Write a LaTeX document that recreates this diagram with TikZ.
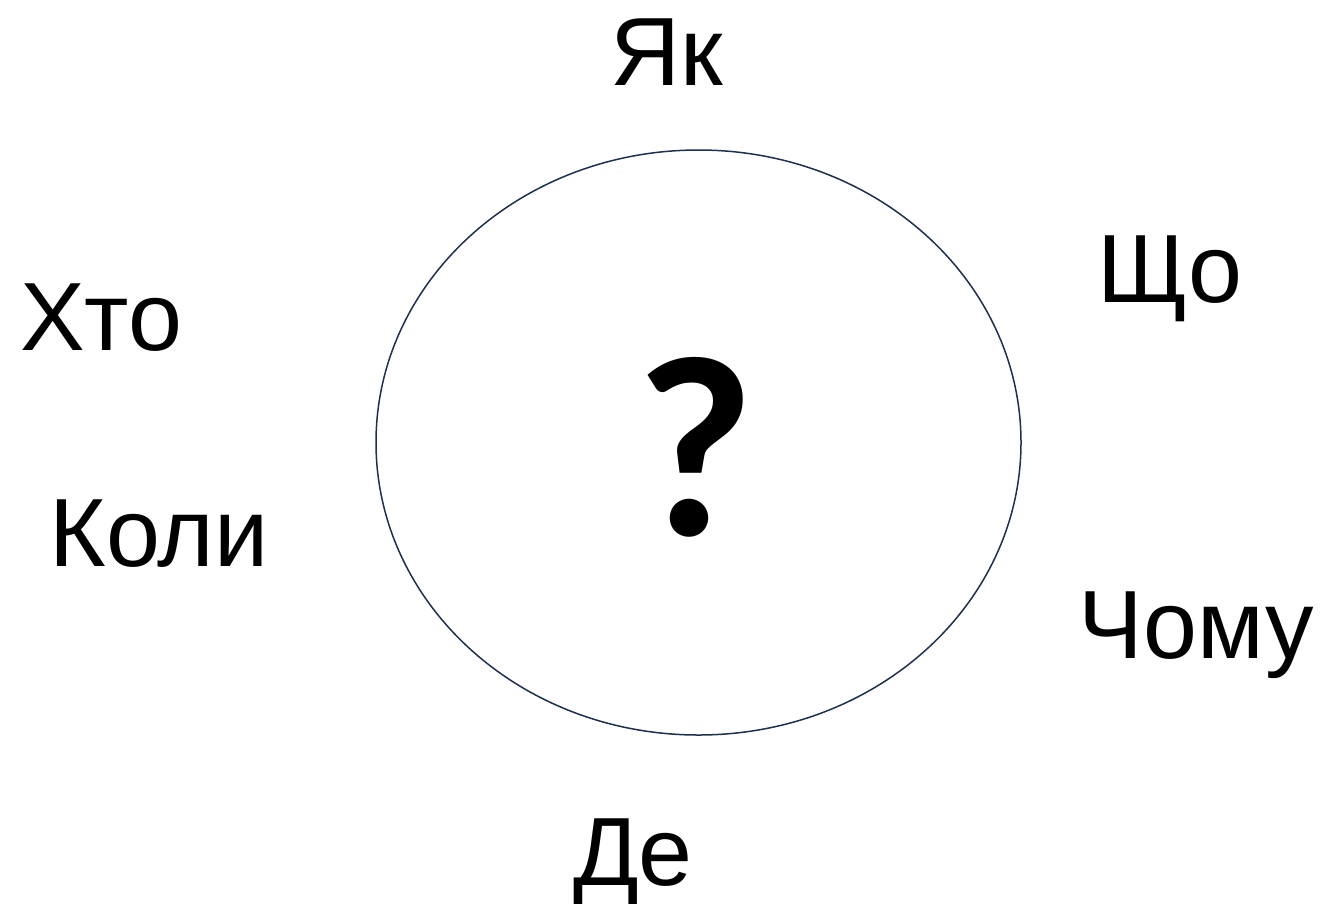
\documentclass[tikz,border=0pt]{standalone}
\usepackage{fontspec}
\usetikzlibrary{shapes.geometric}
\setmainfont{Liberation Sans}
\newfontfamily\qfont{Carlito}
\definecolor{ringcol}{HTML}{1F2F4F}
\begin{document}
\begin{tikzpicture}[x=1pt,y=-1pt,
  word/.style={inner sep=0pt,anchor=base,font=\fontsize{97}{110}\selectfont},
  qmark/.style={inner sep=0pt,anchor=base,font=\qfont\bfseries\fontsize{258}{300}\selectfont}]
\useasboundingbox (0,0) rectangle (1321,903);
\node[draw=ringcol,line width=1.5pt,ellipse,inner sep=0pt,minimum width=645,minimum height=585] (circ) at (698.5,442.5) {};
\node[qmark] (q) at (695,535) {?};
\node[word] (yak) at (667,85) {Як};
\node[word] (shcho) at (1170,302) {Що};
\node[word] (khto) at (101,350) {Хто};
\node[word] (koly) at (159,566) {Коли};
\node[word] (chomu) at (1196,658) {Чому};
\node[word] (de) at (633,885) {Де};
\end{tikzpicture}
\end{document}
